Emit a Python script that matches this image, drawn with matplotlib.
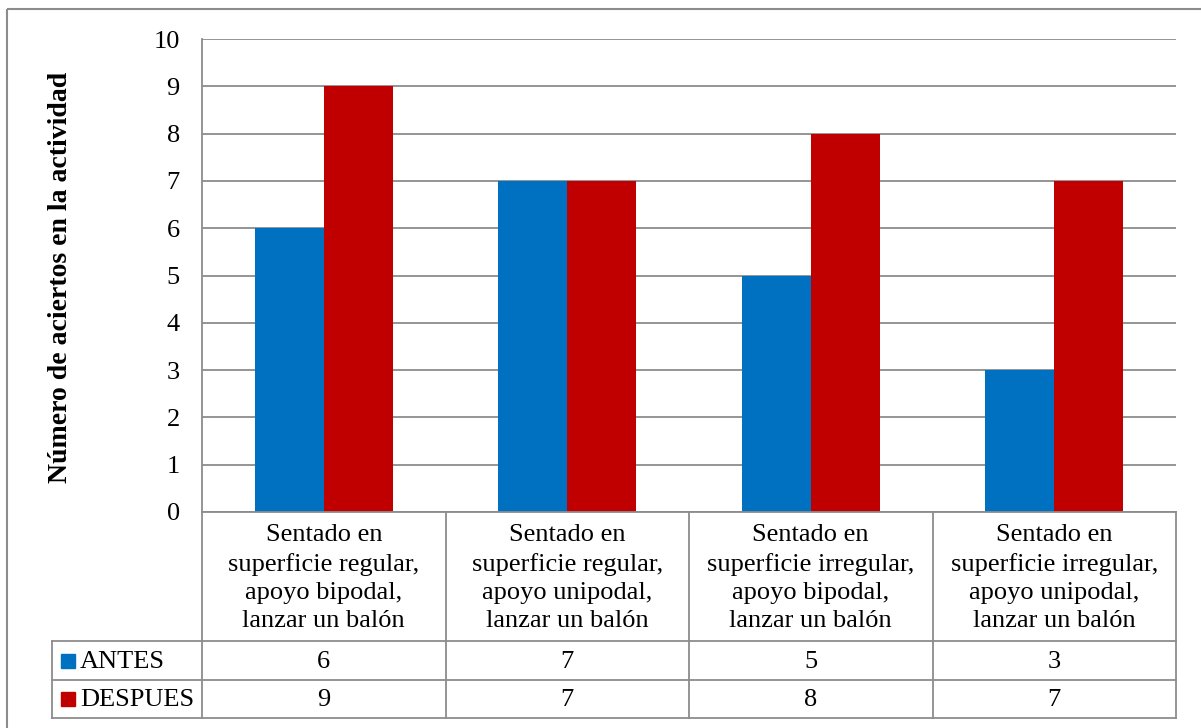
import matplotlib
matplotlib.use("Agg")
import matplotlib.pyplot as plt
from matplotlib.patches import Rectangle
import numpy as np

plt.rcParams['font.family'] = ['Liberation Serif', 'DejaVu Serif']

categories = [
    "Sentado en\nsuperficie regular,\napoyo bipodal,\nlanzar un balón",
    "Sentado en\nsuperficie regular,\napoyo unipodal,\nlanzar un balón",
    "Sentado en\nsuperficie irregular,\napoyo bipodal,\nlanzar un balón",
    "Sentado en\nsuperficie irregular,\napoyo unipodal,\nlanzar un balón",
]
series_names = ["ANTES", "DESPUES"]
antes = [6, 7, 5, 3]
despues = [9, 7, 8, 7]
y_ticks = list(range(0, 11))
y_label = "Número de aciertos en la actividad"

colors = ["#0070C0", "#C00000"]
grid_color = "#8C8C8C"

W, H = 1201, 728
fig = plt.figure(figsize=(W / 100, H / 100), dpi=100)

# plot-area geometry in pixels
px_left, px_right, px_top, px_bottom = 202, 1176, 39, 512
ax = fig.add_axes([px_left / W, 1 - px_bottom / H,
                   (px_right - px_left) / W, (px_bottom - px_top) / H])

n = len(categories)
x = np.arange(n)
bw = 0.283
ax.bar(x - bw / 2, antes, width=bw, color=colors[0], zorder=3)
ax.bar(x + bw / 2, despues, width=bw, color=colors[1], zorder=3)
ax.set_xlim(-0.5, n - 0.5)
ax.set_ylim(0, 10)
ax.set_yticks(y_ticks)
ax.set_yticklabels([str(t) for t in y_ticks], fontsize=19)
ax.tick_params(axis='y', length=0, pad=16)
ax.set_xticks([])
ax.yaxis.grid(True, color=grid_color, linewidth=1.3, zorder=0)
for s in ["top", "right", "bottom"]:
    ax.spines[s].set_visible(False)
ax.spines["left"].set_color(grid_color)
ax.spines["left"].set_linewidth(1.3)

# overlay in pixel coordinates for frame and data table
ov = fig.add_axes([0, 0, 1, 1], zorder=5)
ov.set_xlim(0, W)
ov.set_ylim(H, 0)
ov.axis("off")
ov.patch.set_alpha(0)

ov.add_patch(Rectangle((7, 9), W + 10, H, fill=False, edgecolor="#8C8C8C", linewidth=1.5))

fig.text(61 / W, 1 - 277 / H, y_label, rotation=90, ha="center", va="center",
         fontsize=20, fontweight="bold")

col_w = (px_right - px_left) / n
row_cat_bottom = 641
row1_bottom = 680
row2_bottom = 718
leg_left = 52
lw = 1.3

# horizontal table lines
ov.plot([px_left, px_right], [px_bottom, px_bottom], color=grid_color, lw=lw)
ov.plot([leg_left, px_right], [row_cat_bottom, row_cat_bottom], color=grid_color, lw=lw)
ov.plot([leg_left, px_right], [row1_bottom, row1_bottom], color=grid_color, lw=lw)
ov.plot([leg_left, px_right], [row2_bottom, row2_bottom], color=grid_color, lw=lw)
# vertical table lines
for i in range(n + 1):
    xv = px_left + i * col_w
    ov.plot([xv, xv], [px_bottom, row2_bottom], color=grid_color, lw=lw)
ov.plot([leg_left, leg_left], [row_cat_bottom, row2_bottom], color=grid_color, lw=lw)

for i, cat in enumerate(categories):
    cx = px_left + (i + 0.5) * col_w
    ov.text(cx, 578, cat, ha="center", va="center",
            fontsize=19, linespacing=1.36)

rows = [(antes, row_cat_bottom, row1_bottom), (despues, row1_bottom, row2_bottom)]
for k, (vals, top, bot) in enumerate(rows):
    cy = (top + bot) / 2
    for i, v in enumerate(vals):
        cx = px_left + (i + 0.5) * col_w
        ov.text(cx, cy + 1, str(v), ha="center", va="center", fontsize=19)
    ov.add_patch(Rectangle((61, cy - 7), 14, 14, color=colors[k]))
    ov.text(80, cy + 1, series_names[k], ha="left", va="center", fontsize=19)

fig.savefig("out.png", dpi=100, facecolor="white")
